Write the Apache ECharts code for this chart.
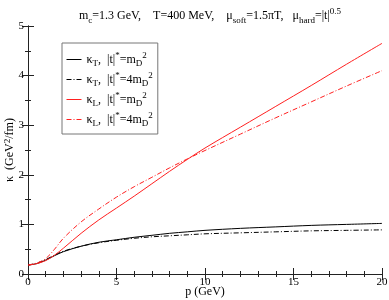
<!DOCTYPE html>
<html>
<head>
<meta charset="utf-8">
<script src="https://cdn.jsdelivr.net/npm/echarts@6/dist/echarts.min.js"></script>
<style>html,body{margin:0;padding:0;background:#fff}#c{width:389px;height:300px}</style>
</head>
<body>
<div id="c"></div>
<script>
var p = [0, 0.5, 1, 1.5, 2, 3, 4, 5, 6, 7, 8, 9, 10, 12, 14, 16, 18, 20];
var kT1 = [0.18, 0.21, 0.28, 0.37, 0.45, 0.56, 0.64, 0.69, 0.74, 0.78, 0.82, 0.85, 0.88, 0.92, 0.95, 0.98, 1.00, 1.02];
var kT4 = [0.18, 0.22, 0.29, 0.38, 0.46, 0.56, 0.63, 0.68, 0.72, 0.75, 0.77, 0.79, 0.81, 0.83, 0.85, 0.87, 0.88, 0.89];
var kL1 = [0.18, 0.21, 0.27, 0.38, 0.52, 0.82, 1.09, 1.33, 1.57, 1.82, 2.07, 2.31, 2.54, 2.96, 3.38, 3.80, 4.23, 4.65];
var kL4 = [0.18, 0.22, 0.31, 0.50, 0.72, 1.05, 1.31, 1.55, 1.76, 1.95, 2.14, 2.32, 2.49, 2.82, 3.15, 3.47, 3.79, 4.10];
var seriesNames = ['kT1', 'kT4', 'kL1', 'kL4'];
var xTicks = [0, 5, 10, 15, 20];
var yTicks = [0, 1, 2, 3, 4, 5];

var FONT = 'Liberation Serif';
var chart = echarts.init(document.getElementById('c'), null, {renderer: 'canvas'});
function pairs(ys) { return p.map(function (x, i) { return [x, ys[i]]; }); }
var dashDot = [5, 2, 1, 2];
var legendText = {
  kT1: '{n|κ}{s|T}{n|,  |t|}{p|*}{n|=m}{s|D}{p|2}',
  kT4: '{n|κ}{s|T}{n|,  |t|}{p|*}{n|=4m}{s|D}{p|2}',
  kL1: '{n|κ}{s|L}{n|,  |t|}{p|*}{n|=m}{s|D}{p|2}',
  kL4: '{n|κ}{s|L}{n|,  |t|}{p|*}{n|=4m}{s|D}{p|2}'
};
function rich(fs, lh) {
  return {
    n: {fontFamily: FONT, fontSize: fs, fontWeight: 'normal', color: '#000', lineHeight: lh, verticalAlign: 'middle'},
    s: {fontFamily: FONT, fontSize: 9, fontWeight: 'normal', color: '#000', lineHeight: 9, verticalAlign: 'bottom', padding: [lh - 11, 0, 0, 0]},
    p: {fontFamily: FONT, fontSize: 9, fontWeight: 'normal', color: '#000', lineHeight: 9, verticalAlign: 'top', padding: [0, 0, lh - 11, 0]}
  };
}
function mkSeries(name, ys, color, dashed) {
  return {
    name: name, type: 'line', data: pairs(ys), smooth: 0.35,
    symbol: 'none', showSymbol: false,
    lineStyle: {color: color, width: 1, type: dashed ? dashDot : 'solid'},
    itemStyle: {color: color},
    xAxisIndex: 0, yAxisIndex: 0, z: 3
  };
}
var axisCommon = {
  min: 0,
  axisLine: {show: true, lineStyle: {color: '#222', width: 1}},
  axisTick: {show: true, inside: true, length: 6, lineStyle: {color: '#222'}},
  splitLine: {show: false},
  minorSplitLine: {show: false}
};
function ax(extra) { return Object.assign({}, JSON.parse(JSON.stringify(axisCommon)), extra); }
var option = {
  animation: false,
  backgroundColor: '#fff',
  title: {
    text: '{n|m}{s|c}{n|=1.3 GeV,    T=400 MeV,    μ}{s|soft}{n|=1.5πT,   μ}{s|hard}{n|=|t|}{p|0.5}',
    left: 205, top: 2, textAlign: 'center',
    textStyle: {fontWeight: 'normal', rich: rich(12, 18)}
  },
  grid: {left: 28, right: 7, top: 26, bottom: 26, containLabel: false, outerBoundsMode: 'none'},
  legend: {
    orient: 'vertical', left: 62, top: 43,
    data: seriesNames,
    itemWidth: 15, itemHeight: 8, itemGap: 3,
    padding: [8, 5, 6, 4],
    borderColor: '#777', borderWidth: 1,
    backgroundColor: '#fff',
    itemStyle: {opacity: 0},
    lineStyle: {width: 1},
    formatter: function (n) { return legendText[n]; },
    textStyle: {rich: rich(12, 17)}
  },
  xAxis: [
    ax({type: 'value', position: 'bottom', max: 20, interval: 5, minorTick: {show: true, splitNumber: 5, length: 3, lineStyle: {color: '#222'}},
      axisLabel: {show: true, fontFamily: FONT, fontSize: 11, color: '#000', margin: 3,
        formatter: function (v) { return xTicks.indexOf(v) >= 0 ? String(v) : ''; }},
      name: 'p (GeV)', nameLocation: 'middle', nameGap: 12, nameMoveOverlap: false,
      nameTextStyle: {fontFamily: FONT, fontSize: 12, color: '#000'}}),
    ax({type: 'value', position: 'top', max: 20, interval: 5, minorTick: {show: true, splitNumber: 5, length: 3, lineStyle: {color: '#222'}},
      axisLabel: {show: false}})
  ],
  yAxis: [
    ax({type: 'value', position: 'left', max: 5, interval: 1, minorTick: {show: true, splitNumber: 2, length: 3, lineStyle: {color: '#222'}},
      axisLabel: {show: true, fontFamily: FONT, fontSize: 11, color: '#000', margin: 4,
        formatter: function (v) { return yTicks.indexOf(v) >= 0 ? String(v) : ''; }},
      name: '{n|κ  (GeV}{p|2}{n|/fm)}', nameLocation: 'middle', nameGap: 11, nameMoveOverlap: false,
      nameTextStyle: {rich: rich(12, 14)}}),
    ax({type: 'value', position: 'right', max: 5, interval: 1, minorTick: {show: true, splitNumber: 2, length: 3, lineStyle: {color: '#222'}},
      axisLabel: {show: false}})
  ],
  series: [
    mkSeries('kT1', kT1, '#000000', false),
    mkSeries('kT4', kT4, '#000000', true),
    mkSeries('kL1', kL1, '#ff2020', false),
    mkSeries('kL4', kL4, '#ff2020', true)
  ]
};
chart.setOption(option);
</script>
</body>
</html>
